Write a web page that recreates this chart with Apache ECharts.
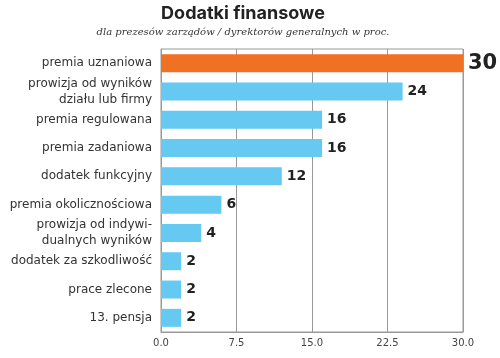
<!DOCTYPE html>
<html><head><meta charset="utf-8">
<script src="https://cdn.jsdelivr.net/npm/echarts@6/dist/echarts.min.js"></script>
<style>html,body{margin:0;padding:0;background:#fff}#c{width:500px;height:358px}</style>
</head><body><div id="c"></div>
<script>
const categories = ["premia uznaniowa","prowizja od wyników\ndziału lub firmy","premia regulowana","premia zadaniowa","dodatek funkcyjny","premia okolicznościowa","prowizja od indywi-\ndualnych wyników","dodatek za szkodliwość","prace zlecone","13. pensja"];
const values = [30,24,16,16,12,6,4,2,2,2];
const xTicks = [0,7.5,15,22.5,30];
const chart = echarts.init(document.getElementById('c'));
chart.setOption({
  animation:false,
  title:{text:'Dodatki finansowe',subtext:'dla prezesów zarządów / dyrektorów generalnych w proc.',left:238,textAlign:'center',top:0,itemGap:4,
    textStyle:{fontFamily:'Inter',fontWeight:'bold',fontSize:18,color:'#222'},
    subtextStyle:{fontFamily:'DejaVu Serif',fontStyle:'italic',fontSize:10,color:'#333'}},
  grid:{left:161,right:37,top:49,bottom:26,show:true,borderColor:'#999',borderWidth:1},
  xAxis:{type:'value',min:0,max:30,interval:7.5,
    axisLine:{show:true,lineStyle:{color:'#999'}},axisTick:{show:false},
    splitLine:{lineStyle:{color:'#999'}},
    axisLabel:{formatter:v=>v.toFixed(1),color:'#444',fontFamily:'DejaVu Sans',fontSize:10,margin:6}},
  yAxis:{type:'category',data:categories,inverse:true,
    axisLine:{show:true,lineStyle:{color:'#999'}},axisTick:{show:false},
    axisLabel:{color:'#333',fontFamily:'DejaVu Sans',fontSize:12,margin:9,lineHeight:16,align:'right'}},
  series:[{type:'bar',barWidth:18,
    data:values.map((v,i)=>({value:v,itemStyle:{color:i===0?'#f07024':'#65c9f1'},
      label:i===0?{fontSize:21}:{}})),
    label:{show:true,position:'right',distance:5,fontFamily:'DejaVu Sans',fontWeight:'bold',fontSize:14,color:'#222'}}]
});
</script></body></html>
